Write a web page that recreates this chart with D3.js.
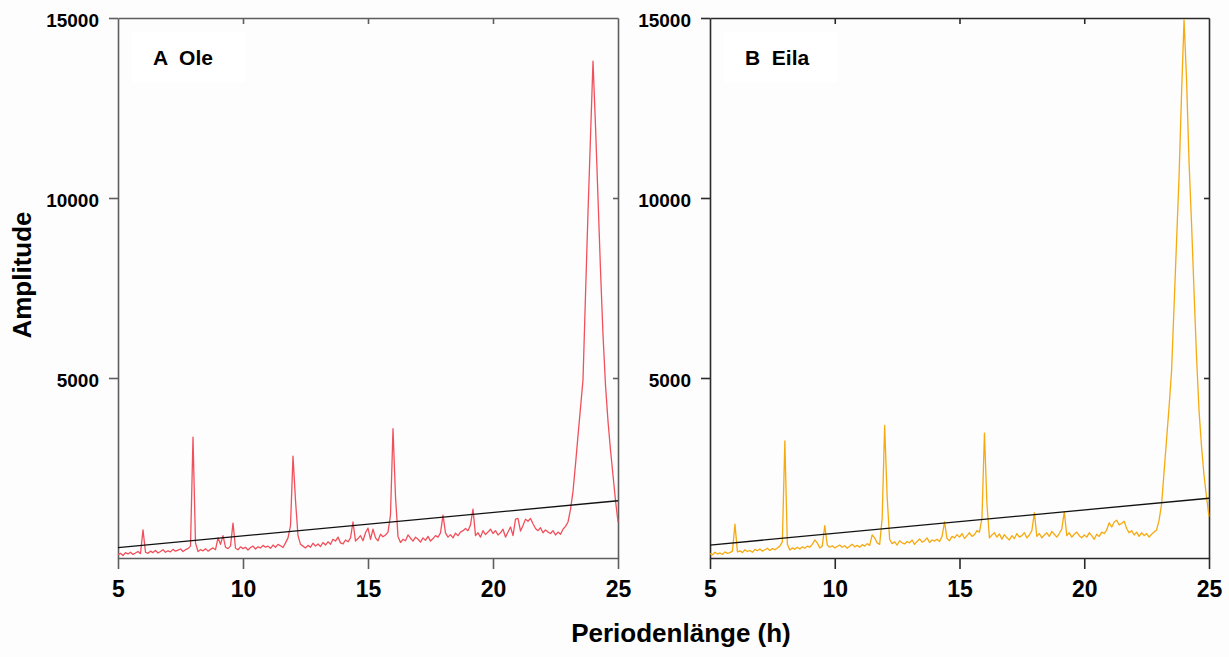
<!DOCTYPE html>
<html>
<head>
<meta charset="utf-8">
<script src="https://cdn.jsdelivr.net/npm/d3@7"></script>
<style>
  body { margin: 0; background: #fdfdfd; }
  svg { display: block; }
</style>
</head>
<body>
<div id="chart"></div>
<script>
// Periodogram samples: 5.0 h .. 25.0 h, one value every 0.1 h
const periodStart = 5;
const periodStep = 0.1;

const amplitudeOle = [
  90, 130, 70, 150, 110, 160, 100, 140, 180, 120,
  780, 160, 130, 190, 150, 210, 140, 180, 230, 160,
  200, 170, 240, 190, 220, 250, 180, 230, 260, 330,
  3360, 420, 180, 230, 200, 260, 190, 240, 280, 230,
  560, 380, 620, 300, 260, 330, 970, 270, 230, 310,
  260, 300, 220, 290, 330, 250, 310, 280, 350, 300,
  330, 270, 360, 300, 380, 340, 290, 420, 560, 900,
  2830, 1600, 620, 380, 330, 280, 350, 300, 410, 330,
  390, 320, 430, 360, 450, 380, 520, 470, 580, 420,
  390, 500, 450, 560, 1000, 470, 540, 620, 480, 700,
  830, 520, 800, 560, 480, 660, 590, 640, 720, 1200,
  3590, 1700, 600, 430, 520, 480, 640, 550, 470, 580,
  520, 440, 560, 490, 600, 470, 540, 620, 580, 700,
  1190, 700, 580, 650, 560, 690, 620, 720, 760, 820,
  760, 920, 1360, 620, 700, 580, 760, 650, 720, 800,
  680, 760, 640, 700, 800, 580, 720, 860, 620, 1080,
  1100, 750, 900, 1080, 1020, 1100, 950, 820, 760, 840,
  700, 780, 720, 680, 760, 640, 720, 660, 800, 880,
  1000, 1350, 1850, 2600, 3400, 4170, 4950, 7300, 9600, 11700,
  13800, 12000, 10000, 8000, 6200, 4800, 3800, 3000, 2300, 1600,
  1000
];

const amplitudeEila = [
  120, 90, 160, 110, 140, 100, 170, 130, 150, 190,
  940, 170, 200, 150, 230, 180, 210, 160, 240, 200,
  250, 190, 230, 270, 210, 260, 230, 280, 330, 450,
  3250, 380, 220, 280, 240, 300, 250, 310, 270, 330,
  300, 380, 500, 420, 280, 330, 900, 360, 300, 340,
  280, 320, 360, 300, 340, 270, 330, 380, 310, 350,
  300, 370, 330, 400, 350, 640, 560, 420, 380, 1100,
  3680, 1700, 520, 400, 450, 360, 480, 420, 390, 460,
  420, 500, 380, 460, 530, 440, 480, 560, 430, 500,
  470, 520, 460, 600, 1000, 540, 480, 600, 560, 650,
  580, 680, 540, 620, 700, 600, 650, 760, 720, 1100,
  3470, 1500, 560, 640, 700, 580, 670, 520, 650, 560,
  500, 620, 540, 680, 580, 620, 700, 560, 640, 760,
  1260, 600, 680, 560, 640, 700, 600, 740, 660, 580,
  680, 800, 1290, 620, 700, 580, 660, 720, 620, 560,
  640, 580, 700, 620, 520, 660, 600, 720, 680, 780,
  980, 860, 1000, 1050, 920, 960, 1020, 820, 700, 760,
  640, 720, 600, 700, 620, 680, 580, 660, 720, 780,
  1050, 1500, 2400, 3300, 4200, 5200, 7000, 8800, 10600, 12900,
  14950, 13300, 11000, 9300, 7400, 5600, 4100, 3100, 2300, 1700,
  1150
];

// significance line (black), from 5 h to 25 h
const thresholdPeriods = [5, 25];
const thresholdOle = [290, 1590];
const thresholdEila = [360, 1660];

const xTicks = [5, 10, 15, 20, 25];
const yTicks = [5000, 10000, 15000];

// Dimensions
const width = 1229;
const height = 657;
const plotTop = 18;
const plotBottom = 558;

const svg = d3.select("#chart")
  .append("svg")
    .attr("width", width)
    .attr("height", height);

const yScale = d3.scaleLinear()
  .domain([0, 15000])
  .range([plotBottom, plotTop]);

const tickFont = "'Liberation Sans Narrow', 'Arial Narrow', 'Liberation Sans', Arial, sans-serif";
const textFont = "'Liberation Sans', Arial, sans-serif";

const drawPanel = (opts) => {
  const xScale = d3.scaleLinear()
    .domain([5, 25])
    .range([opts.x0, opts.x1]);

  const g = svg.append("g").attr("class", "panel");

  // label box
  g.append("rect")
    .attr("x", opts.x0 + 14)
    .attr("y", 32)
    .attr("width", 113)
    .attr("height", 50)
    .attr("fill", "#ffffff");

  g.append("text")
    .attr("x", opts.x0 + 35)
    .attr("y", 65)
    .style("white-space", "pre")
    .attr("font-family", textFont)
    .attr("font-weight", "bold")
    .attr("font-size", 21)
    .attr("fill", "#000")
    .text(opts.label);

  // Axes
  const leftAxis = d3.axisLeft(yScale)
    .tickValues(yTicks)
    .tickFormat(d3.format("d"))
    .tickSize(9)
    .tickSizeOuter(0)
    .tickPadding(10);
  const yAxis = g.append("g")
    .attr("transform", `translate(${opts.x0}, 0)`)
    .call(leftAxis);
  yAxis.selectAll("text")
    .attr("dy", "0.47em")
    .attr("font-family", tickFont)
    .attr("font-weight", "bold")
    .attr("font-size", 19)
    .attr("fill", "#000");

  const bottomAxis = d3.axisBottom(xScale)
    .tickValues(xTicks)
    .tickFormat(d3.format("d"))
    .tickSize(11)
    .tickSizeOuter(0)
    .tickPadding(12);
  const xAxis = g.append("g")
    .attr("transform", `translate(0, ${plotBottom})`)
    .call(bottomAxis);
  xAxis.selectAll("text")
    .attr("font-family", tickFont)
    .attr("font-weight", "bold")
    .attr("font-size", 23)
    .attr("fill", "#000");

  const topAxis = d3.axisTop(xScale)
    .tickValues([10, 15, 20])
    .tickSize(-6)
    .tickSizeOuter(0)
    .tickFormat("");
  g.append("g")
    .attr("transform", `translate(0, ${plotTop})`)
    .call(topAxis);

  const rightAxis = d3.axisRight(yScale)
    .tickValues([5000, 10000])
    .tickSize(-5)
    .tickSizeOuter(0)
    .tickFormat("");
  g.append("g")
    .attr("transform", `translate(${opts.x1}, 0)`)
    .call(rightAxis);

  g.selectAll(".domain, .tick line")
    .attr("stroke", opts.frameColor)
    .attr("stroke-width", 1.6);

  // Periodogram line
  const line = d3.line()
    .x((d, i) => xScale(periodStart + i * periodStep))
    .y(d => yScale(d));

  g.append("path")
    .datum(opts.values)
    .attr("fill", "none")
    .attr("stroke", opts.color)
    .attr("stroke-width", 1.3)
    .attr("stroke-linejoin", "round")
    .attr("d", line);

  // threshold line
  g.append("line")
    .attr("x1", xScale(thresholdPeriods[0]))
    .attr("y1", yScale(opts.threshold[0]))
    .attr("x2", xScale(thresholdPeriods[1]))
    .attr("y2", yScale(opts.threshold[1]))
    .attr("stroke", "#111")
    .attr("stroke-width", 1.3);
};

drawPanel({
  x0: 118, x1: 618,
  values: amplitudeOle,
  threshold: thresholdOle,
  color: "#f0505c",
  frameColor: "#5e5e5e",
  label: "A  Ole"
});

drawPanel({
  x0: 710, x1: 1209,
  values: amplitudeEila,
  threshold: thresholdEila,
  color: "#f5aa10",
  frameColor: "#2a2a2a",
  label: "B  Eila"
});

// axis titles
svg.append("text")
  .attr("transform", "translate(31, 275) rotate(-90)")
  .attr("text-anchor", "middle")
  .attr("font-family", textFont)
  .attr("font-weight", "bold")
  .attr("font-size", 26)
  .text("Amplitude");

svg.append("text")
  .attr("x", 681)
  .attr("y", 642)
  .attr("text-anchor", "middle")
  .attr("font-family", textFont)
  .attr("font-weight", "bold")
  .attr("font-size", 26)
  .text("Periodenlänge (h)");
</script>
</body>
</html>
